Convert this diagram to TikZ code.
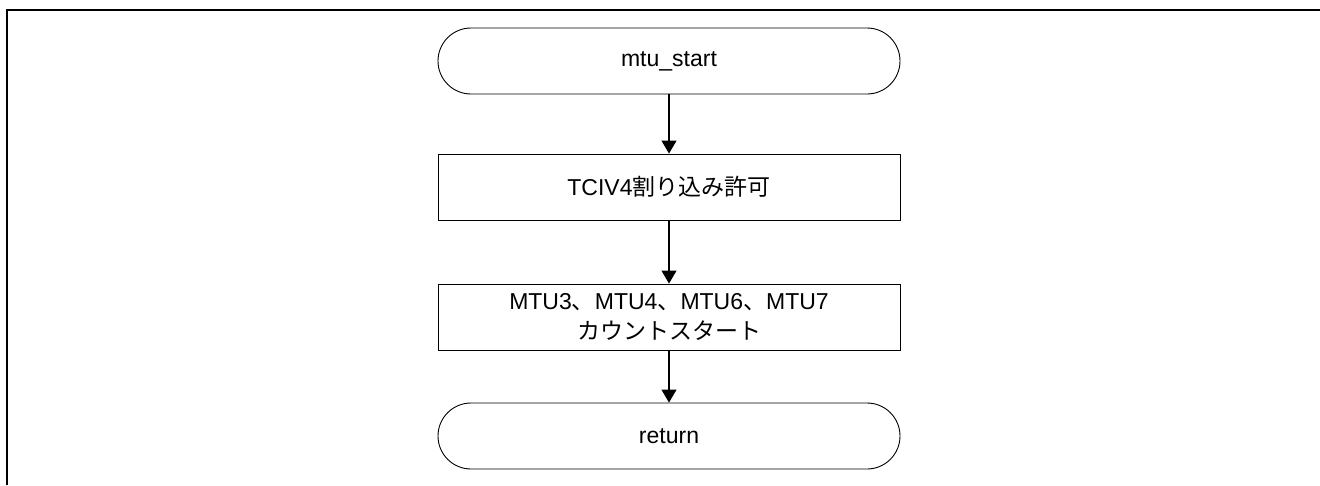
\documentclass[tikz,border=0pt]{standalone}
\usepackage{fontspec}
\setmainfont{Liberation Sans}
\newfontfamily\jpfont{Noto Sans CJK JP}
\usetikzlibrary{arrows.meta}
\begin{document}
\begin{tikzpicture}[x=1pt,y=-1pt,
  base/.style={draw=black, line width=0.9pt, minimum width=462pt, minimum height=66pt, inner sep=0pt, align=center, font=\fontsize{23}{29.5}\selectfont},
  term/.style={base, rounded corners=33pt},
  proc/.style={base},
  conn/.style={line width=1.2pt, -{Triangle[width=15pt,length=13pt]}}]
\useasboundingbox (0,0) rectangle (1320,485);
\draw[line width=2pt] (6.5,485) -- (6.5,10) -- (1320,10);
\node[term] (s) at (669,61) {mtu\_start};
\node[proc] (a) at (669,187) {TCIV4{\jpfont 割り込み許可}};
\node[proc] (b) at (669,317) {MTU3{\jpfont 、}MTU4{\jpfont 、}MTU6{\jpfont 、}MTU7\\{\jpfont カウントスタート}};
\node[term] (r) at (669,436) {return};
\draw[conn] (s) -- (a);
\draw[conn] (a) -- (b);
\draw[conn] (b) -- (r);
\end{tikzpicture}
\end{document}
